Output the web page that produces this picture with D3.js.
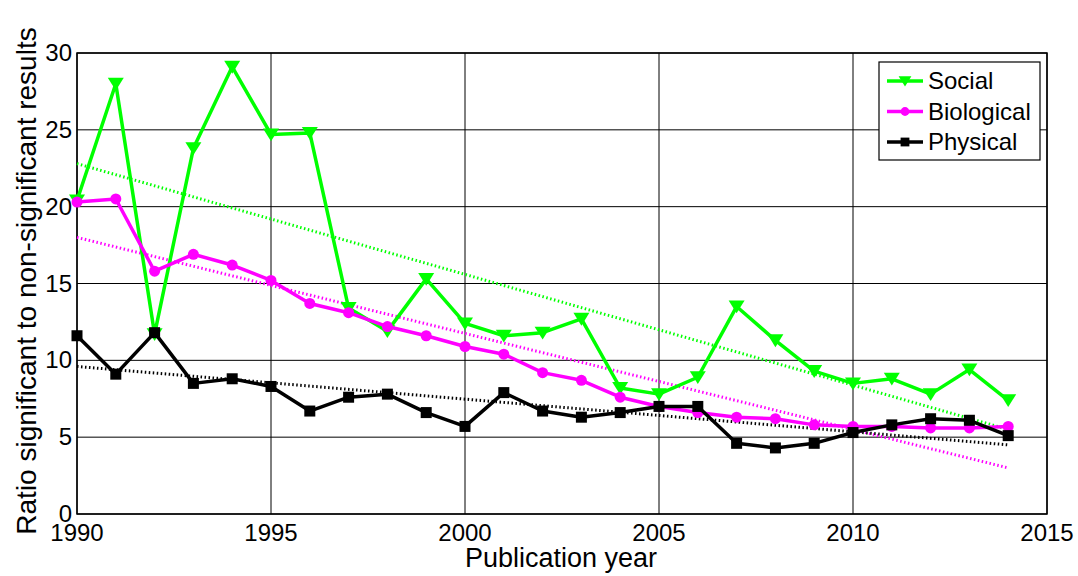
<!DOCTYPE html>
<html>
<head>
<meta charset="utf-8">
<script src="https://cdn.jsdelivr.net/npm/d3@7"></script>
<style>
  body { margin: 0; background: #fff; }
  text { font-family: "Liberation Sans", Arial, sans-serif; }
</style>
</head>
<body>
<script>
// data
const years = d3.range(1990, 2015)
const social = [20.4, 28.0, 11.7, 23.8, 29.1, 24.7, 24.8, 13.4, 11.9, 15.3, 12.4, 11.6, 11.8, 12.7,
                8.2, 7.8, 8.9, 13.5, 11.3, 9.3, 8.5, 8.8, 7.8, 9.4, 7.4]
const biological = [20.3, 20.5, 15.8, 16.9, 16.2, 15.2, 13.7, 13.1, 12.2, 11.6, 10.9, 10.4, 9.2, 8.7,
                    7.6, 7.0, 6.6, 6.3, 6.2, 5.8, 5.7, 5.7, 5.6, 5.6, 5.7]
const physical = [11.6, 9.1, 11.8, 8.5, 8.8, 8.3, 6.7, 7.6, 7.8, 6.6, 5.7, 7.9, 6.7, 6.3,
                  6.6, 7.0, 7.0, 4.6, 4.3, 4.6, 5.3, 5.8, 6.2, 6.1, 5.1]
// linear trend endpoints (1990, 2014)
const trendYears = [1990, 2014]
const socialTrend = [22.8, 5.5]
const biologicalTrend = [18.0, 3.0]
const physicalTrend = [9.6, 4.5]

const xTicks = [1990, 1995, 2000, 2005, 2010, 2015]
const yTicks = [0, 5, 10, 15, 20, 25, 30]

const m = { width: 1078, height: 576 }
const plot = { left: 77, right: 1047, top: 53, bottom: 514 }

const svg = d3.select('body').append('svg')
    .attr('width', m.width)
    .attr('height', m.height)

const x = d3.scaleLinear().domain([1990, 2015]).range([plot.left, plot.right])
const y = d3.scaleLinear().domain([0, 30]).range([plot.bottom, plot.top])

// grid
svg.append('g').selectAll('line')
    .data(xTicks)
    .enter().append('line')
        .attr('x1', d => x(d)).attr('x2', d => x(d))
        .attr('y1', plot.top).attr('y2', plot.bottom)
        .attr('stroke', '#000').attr('stroke-width', 1)

svg.append('g').selectAll('line')
    .data(yTicks)
    .enter().append('line')
        .attr('x1', plot.left).attr('x2', plot.right)
        .attr('y1', d => y(d)).attr('y2', d => y(d))
        .attr('stroke', '#000').attr('stroke-width', 1)

svg.append('rect')
    .attr('x', plot.left).attr('y', plot.top)
    .attr('width', plot.right - plot.left).attr('height', plot.bottom - plot.top)
    .attr('fill', 'none').attr('stroke', '#000').attr('stroke-width', 1.5)

// tick labels
svg.append('g').selectAll('text')
    .data(xTicks)
    .enter().append('text')
        .attr('x', d => x(d))
        .attr('y', plot.bottom + 27)
        .attr('text-anchor', 'middle')
        .attr('font-size', '24px')
        .text(d => d)

svg.append('g').selectAll('text')
    .data(yTicks)
    .enter().append('text')
        .attr('x', plot.left - 5)
        .attr('y', d => y(d) + 8)
        .attr('text-anchor', 'end')
        .attr('font-size', '24px')
        .text(d => d)

svg.append('text')
    .attr('x', 561)
    .attr('y', 567)
    .attr('text-anchor', 'middle')
    .attr('font-size', '27px')
    .text('Publication year')

svg.append('text')
    .attr('transform', 'translate(36,281) rotate(-90)')
    .attr('text-anchor', 'middle')
    .attr('font-size', '28px')
    .text('Ratio significant to non-significant results')

const series = [
    { name: 'Social', values: social, trend: socialTrend, color: '#00ff00', symbol: 'tri' },
    { name: 'Biological', values: biological, trend: biologicalTrend, color: '#ff00ff', symbol: 'circle' },
    { name: 'Physical', values: physical, trend: physicalTrend, color: '#000000', symbol: 'square' }
]

function marker(g, s, cx, cy, scale) {
    if (s.symbol === 'tri') {
        const w = 8 * scale, h = 8 * scale
        g.append('path')
            .attr('d', `M${cx - w},${cy - h * 0.75}L${cx + w},${cy - h * 0.75}L${cx},${cy + h * 0.85}Z`)
            .attr('fill', s.color)
    } else if (s.symbol === 'circle') {
        g.append('circle').attr('cx', cx).attr('cy', cy).attr('r', 5.5 * scale).attr('fill', s.color)
    } else {
        const r = 5.5 * scale
        g.append('rect').attr('x', cx - r).attr('y', cy - r)
            .attr('width', 2 * r).attr('height', 2 * r).attr('fill', s.color)
    }
}

const line = d3.line().x(d => x(d[0])).y(d => y(d[1]))

// trend lines
series.forEach(s => {
    svg.append('path')
        .datum(trendYears.map((yr, i) => [yr, s.trend[i]]))
        .attr('d', line)
        .attr('fill', 'none')
        .attr('stroke', s.color)
        .attr('stroke-width', 3)
        .attr('stroke-dasharray', '1.5,2.5')
})

// data lines (drawn social first, physical on top)
series.forEach(s => {
    const g = svg.append('g')
    g.append('path')
        .datum(years.map((yr, i) => [yr, s.values[i]]))
        .attr('d', line)
        .attr('fill', 'none')
        .attr('stroke', s.color)
        .attr('stroke-width', 3.5)
        .attr('stroke-linejoin', 'round')
    years.forEach((yr, i) => marker(g, s, x(yr), y(s.values[i]), 1))
})

// legend
const lg = svg.append('g')
lg.append('rect')
    .attr('x', 879).attr('y', 62).attr('width', 161).attr('height', 98)
    .attr('fill', '#fff').attr('stroke', '#000').attr('stroke-width', 1.2)

series.forEach((s, i) => {
    const ly = 81 + i * 30.5
    lg.append('line')
        .attr('x1', 887).attr('x2', 923)
        .attr('y1', ly).attr('y2', ly)
        .attr('stroke', s.color).attr('stroke-width', 3.5)
    marker(lg, s, 905, ly, 0.8)
    lg.append('text')
        .attr('x', 928).attr('y', ly + 8)
        .attr('font-size', '24px')
        .text(s.name)
})
</script>
</body>
</html>
